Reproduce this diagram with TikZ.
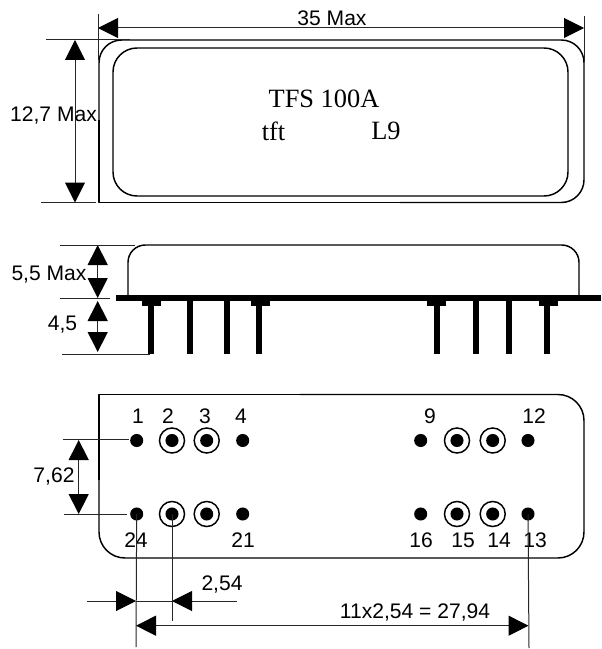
\documentclass[tikz,border=0pt]{standalone}
\usepackage{fontspec}
\setmainfont{Liberation Serif}
\setsansfont{Liberation Sans}
\usetikzlibrary{arrows.meta}
\tikzset{
	outline/.style={draw,line width=1.1pt,line join=round},
	dimline/.style={draw=black!85,line width=0.75pt},
	dimarrow/.style={dimline,{Triangle[length=15pt,width=15pt,color=black]}-{Triangle[length=15pt,width=15pt,color=black]}},
	tiparrow/.style={dimline,-{Triangle[length=15pt,width=15pt,color=black]}},
	dimlabel/.style={inner sep=0pt,font=\sffamily\fontsize{15.8}{15.8}\selectfont},
	marking/.style={inner sep=0pt,font=\rmfamily\fontsize{19.8}{19.8}\selectfont},
	pinhole/.style={shape=circle,fill=black,inner sep=0pt,minimum size=9.8pt},
	padring/.style={shape=circle,draw,line width=1.1pt,inner sep=0pt,minimum size=18.8pt},
}
\begin{document}
\begin{tikzpicture}[x=0.75pt,y=-0.75pt]
	\useasboundingbox (0,0) rectangle (601,649);
	\draw [outline,rounded corners=17pt] (99,120) -- (99,40) -- (584,40) -- (584,202.5) -- (400,202.5);
	\draw [outline] (400,202.5) -- (99,202.5) -- (99,120);
	\draw [outline,rounded corners=18pt] (113,48) rectangle (568,196);
	\draw (324,99) node (name) [marking] {TFS 100A};
	\draw (273.5,131) node (tft) [marking] {tft};
	\draw (386,131) node (lot) [marking] {L9};
	\coordinate (wl) at (98,28);
	\coordinate (wr) at (584,28);
	\coordinate (wlt) at (98,14);
	\coordinate (wlb) at (98,60);
	\coordinate (wrt) at (584,16);
	\coordinate (wrb) at (584,62);
	\draw [dimarrow] (wl) -- (wr);
	\draw [dimline] (wlt) -- (wlb);
	\draw [dimline] (wrt) -- (wrb);
	\draw (332,18) node (width) [dimlabel] {35 Max};
	\coordinate (ht) at (75,40);
	\coordinate (hb) at (75,202.5);
	\coordinate (htl) at (46,40);
	\coordinate (htr) at (130,40);
	\coordinate (hbl) at (41,202.5);
	\coordinate (hbr) at (96,202.5);
	\draw [dimarrow] (ht) -- (hb);
	\draw [dimline] (htl) -- (htr);
	\draw [dimline] (hbl) -- (hbr);
	\draw (53.5,115) node (height) [dimlabel] {12,7 Max};

	\draw [outline,rounded corners=13pt] (128,296) -- (128,245) -- (579,245) -- (579,296);
	\draw [line width=4.5pt] (116,298) -- (601,298);
	\foreach \i in {151,190,227,259,437,476,509,547} {
		\draw [line width=4.5pt] (\i,300) -- (\i,354);
	}
	\foreach \i in {151.5,260,436,548.5} {
		\draw [line width=4.5pt] (\i-9.5,303) -- (\i+9.5,303);
	}
	\coordinate (bt) at (97.7,245);
	\coordinate (bb) at (97.7,298);
	\coordinate (pt) at (97.7,301);
	\coordinate (pb) at (97.7,352);
	\coordinate (btl) at (60,245);
	\coordinate (btr) at (135,245);
	\coordinate (bbl) at (60,298);
	\coordinate (bbr) at (110,298);
	\coordinate (pbl) at (62,354);
	\coordinate (pbr) at (150,354);
	\draw [dimarrow] (bt) -- (bb);
	\draw [dimarrow] (pt) -- (pb);
	\draw [dimline] (btl) -- (btr);
	\draw [dimline] (bbl) -- (bbr);
	\draw [dimline] (pbl) -- (pbr);
	\draw (49,275) node (body) [dimlabel] {5,5 Max};
	\draw (62.5,325) node (pinlen) [dimlabel] {4,5};

	\draw [outline,rounded corners=19.5pt] (99,480) -- (99,558) -- (584,558) -- (584,394.5) -- (300,394.5);
	\draw [outline] (300,394.5) -- (99,394.5) -- (99,480);
	\foreach \i/\xi/\yi in {1/136.7/440.5,4/242.7/440.5,9/420.7/440.5,12/528/440.5,24/136.7/514,21/242.7/514,16/420.7/514,13/528/514} {
		\draw (\xi,\yi) node (p\i) [pinhole] {};
	}
	\foreach \i/\xi/\yi in {2/172/440.5,3/206.7/440.5,10/457/440.5,11/492.7/440.5,23/172/514,22/206.7/514,15/457/514,14/492.7/514} {
		\draw (\xi,\yi) node (r\i) [padring] {};
		\draw (\xi,\yi) node (p\i) [pinhole] {};
	}
	\foreach \t/\xi in {1/138,2/168,3/205,4/241,9/430,12/534} {
		\draw (\xi,416) node (top\t) [dimlabel] {\t};
	}
	\foreach \t/\xi in {24/136,21/243,16/421,15/463,14/499,13/535} {
		\draw (\xi,540) node (bot\t) [dimlabel] {\t};
	}
	\coordinate (st) at (78.7,440);
	\coordinate (sb) at (78.7,514);
	\coordinate (stl) at (63,439);
	\coordinate (str) at (129,439);
	\coordinate (sbl) at (64,514);
	\coordinate (sbr) at (127,514);
	\draw [dimarrow] (st) -- (sb);
	\draw [dimline] (stl) -- (str);
	\draw [dimline] (sbl) -- (sbr);
	\draw (54,476) node (row) [dimlabel] {7,62};
	\coordinate (e24) at (136,647);
	\coordinate (e23) at (172,621);
	\coordinate (e13) at (529,648);
	\draw [dimline] (p24.center) -- (e24);
	\draw [dimline] (p23.center) -- (e23);
	\draw [dimline] (p13.center) -- (e13);
	\coordinate (al) at (87,601);
	\coordinate (ar) at (136,601);
	\coordinate (cl) at (172,601);
	\coordinate (cr) at (237,601);
	\draw [tiparrow] (al) -- (ar);
	\draw [tiparrow] (cr) -- (cl);
	\draw [dimline] (ar) -- (cl);
	\draw (222,584) node (pitch) [dimlabel] {2,54};
	\coordinate (tl) at (136,625.7);
	\coordinate (tr) at (528.5,625.7);
	\draw [dimarrow] (tl) -- (tr);
	\draw (415,612) node (span) [dimlabel] {11x2,54 = 27,94};
\end{tikzpicture}
\end{document}
